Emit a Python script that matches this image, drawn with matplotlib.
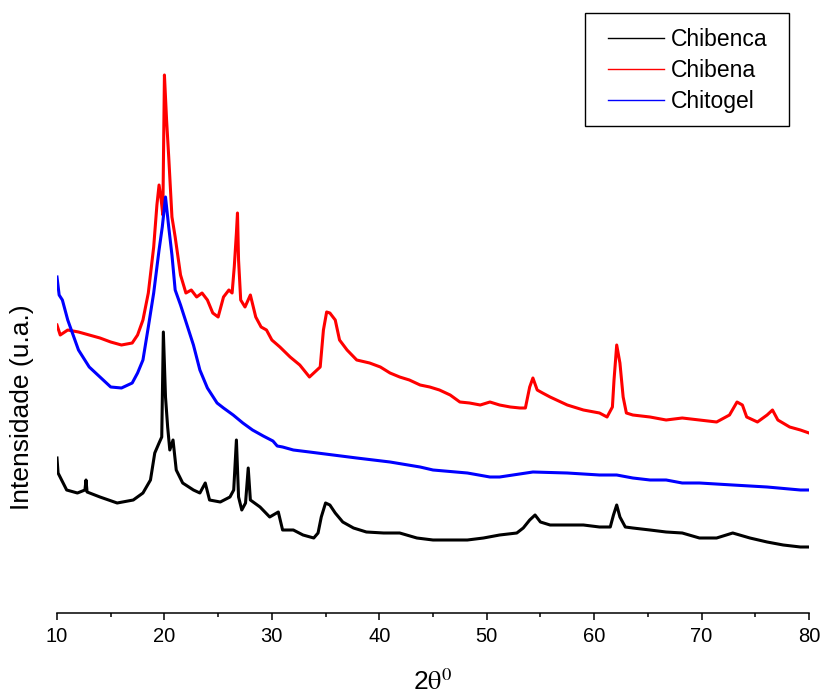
import matplotlib
matplotlib.use("Agg")
import matplotlib.pyplot as plt
from matplotlib.patches import Rectangle

plt.rcParams['font.family'] = ['Liberation Sans', 'DejaVu Sans']
plt.rcParams['mathtext.fontset'] = 'stix'

# Chibena (red)
x_chibena = [10.0, 10.3, 11, 12, 13, 14, 15, 16, 17, 17.5, 18, 18.5, 19, 19.3, 19.5, 19.7,
             19.85, 20.0, 20.2, 20.4, 20.7, 21.0, 21.5, 22, 22.5, 23, 23.5, 24, 24.5, 25,
             25.5, 26, 26.3, 26.5, 26.7, 26.8, 26.9, 27.1, 27.5, 28, 28.5, 29, 29.5, 30,
             30.75, 31.7, 32.6, 33.5, 34.0, 34.5, 34.8, 35.1, 35.4, 35.9, 36.3, 37.0, 37.9,
             39.1, 40.1, 41.0, 41.9, 42.8, 43.8, 44.7, 45.6, 46.6, 47.5, 48.4, 49.4, 50.3,
             51.2, 52.2, 53.1, 53.6, 54.0, 54.3, 54.7, 55.2, 55.9, 57.5, 59.0, 60.5, 61.2,
             61.7, 61.85, 62.1, 62.4, 62.7, 63.0, 63.6, 65.2, 66.7, 68.2, 69.8, 71.4, 72.6,
             73.3, 73.8, 74.2, 75.2, 76.1, 76.6, 77.1, 78.2, 79.2, 80.0]
y_chibena = [288, 278, 283, 281, 278, 275, 271, 268, 270, 278, 293, 320, 366, 408, 428, 413,
             398, 538, 493, 456, 396, 376, 338, 320, 323, 316, 320, 313, 300, 296,
             316, 323, 320, 346, 380, 400, 353, 313, 306, 318, 296, 286, 283, 273,
             266, 256, 248, 236, 241, 246, 283, 301, 300, 293, 273, 263, 253,
             250, 246, 240, 236, 233, 228, 226, 223, 218, 211, 210, 208, 211,
             208, 206, 205, 205, 226, 235, 223, 220, 216, 208, 203, 200, 196,
             206, 233, 268, 250, 216, 200, 198, 196, 193, 195, 193, 191, 198,
             211, 208, 196, 191, 198, 203, 193, 186, 183, 180]

# Chitogel (blue)
x_chitogel = [10.0, 10.2, 10.5, 11, 12, 13, 14, 15, 16, 17, 17.5, 18, 18.5, 19, 19.5, 19.8,
              20.1, 20.4, 20.7, 21.0, 21.5, 22.1, 22.7, 23.3, 24.0, 24.9, 25.5, 26.4, 27.3,
              28.2, 29.2, 30.1, 30.5, 31.0, 32.0, 33.5, 35.7, 37.9, 41.0, 43.8, 45.0, 48.2,
              50.3, 51.2, 54.3, 57.5, 60.5, 62.1, 63.6, 65.2, 66.7, 68.2, 69.8, 72.9, 76.1,
              79.2, 80.0]
y_chitogel = [336, 318, 313, 293, 263, 246, 236, 226, 225, 230, 240, 253, 286, 320, 363, 386,
              416, 386, 358, 323, 308, 288, 268, 243, 225, 210, 205, 198, 190,
              183, 177, 172, 167, 166, 163, 161, 158, 155, 151, 146, 143, 140,
              136, 136, 141, 140, 138, 138, 135, 133, 133, 130, 130, 128, 126,
              123, 123]

# Chibenca (black)
x_chibenca = [10.0, 10.1, 10.9, 11.9, 12.6, 12.7, 12.8, 14.0, 15.6, 17.1, 18.0, 18.7, 19.1,
              19.5, 19.75, 19.9, 20.1, 20.3, 20.5, 20.8, 21.1, 21.7, 22.7, 23.3, 23.8, 24.2,
              25.2, 26.1, 26.45, 26.7, 26.9, 27.2, 27.55, 27.8, 28.0, 28.9, 29.8, 30.6, 31.0,
              32.0, 32.9, 33.9, 34.3, 34.6, 35.0, 35.4, 35.9, 36.6, 37.6, 38.8, 40.4, 41.9,
              43.5, 45.0, 46.6, 48.2, 49.7, 51.2, 52.8, 53.4, 54.0, 54.5, 55.0, 55.9, 57.5,
              59.0, 60.5, 61.5, 61.8, 62.1, 62.4, 62.9, 63.6, 65.2, 66.7, 68.2, 69.8, 71.4,
              72.9, 74.5, 76.1, 77.6, 79.2, 80.0]
y_chibenca = [155, 140, 123, 120, 123, 133, 121, 116, 110, 113, 120, 133, 160,
              170, 176, 281, 216, 186, 163, 173, 143, 130, 123, 120, 130, 113,
              111, 116, 123, 173, 116, 103, 110, 145, 113, 106, 96, 101, 83,
              83, 78, 75, 80, 96, 110, 108, 100, 91, 85, 81, 80, 80,
              75, 73, 73, 73, 75, 78, 80, 85, 93, 98, 91, 88, 88,
              88, 86, 86, 98, 108, 96, 86, 85, 83, 81, 80, 75, 75,
              80, 75, 71, 68, 66, 66]

labels = ['Chibenca', 'Chibena', 'Chitogel']
colors = ['black', 'red', 'blue']

fig = plt.figure(figsize=(8.21, 6.95), dpi=100)
ax = fig.add_axes([57/821, 82/695, 752/821, 613/695])

ax.plot(x_chibenca, y_chibenca, color=colors[0], lw=2.2, label=labels[0])
ax.plot(x_chibena, y_chibena, color=colors[1], lw=2.2, label=labels[1])
ax.plot(x_chitogel, y_chitogel, color=colors[2], lw=2.2, label=labels[2])

ax.set_xlim(10, 80)
ax.set_ylim(0, 613)
for s in ['left', 'top', 'right']:
    ax.spines[s].set_visible(False)
ax.spines['bottom'].set_linewidth(1.1)
ax.set_yticks([])
ax.set_xticks(range(10, 81, 10))
ax.set_xticks(range(15, 80, 10), minor=True)
ax.tick_params(axis='x', which='major', length=5, width=1.1, labelsize=14.5, pad=5)
ax.tick_params(axis='x', which='minor', length=3, width=1.1)

fig.text(22/821, 1 - 407/695, 'Intensidade (u.a.)', rotation=90, fontsize=19,
         ha='center', va='center')
fig.text(433/821, 1 - 682/695, r'2$\mathrm{\theta}^{\mathrm{0}}$', fontsize=19,
         ha='center', va='center')

# legend box
fig.patches.append(Rectangle((585/821, 1 - 126/695), 204/821, 113/695, fill=False,
                             edgecolor='black', lw=1, transform=fig.transFigure))
leg = ax.legend(loc='upper left', bbox_to_anchor=(608/821, 1 - 28/695),
                bbox_transform=fig.transFigure, frameon=False, fontsize=16.5,
                handlelength=2.45, handletextpad=0.3, labelspacing=0.35,
                borderpad=0, borderaxespad=0)
for line in leg.get_lines():
    line.set_linewidth(1.0)

plt.savefig('out.png', dpi=100)
